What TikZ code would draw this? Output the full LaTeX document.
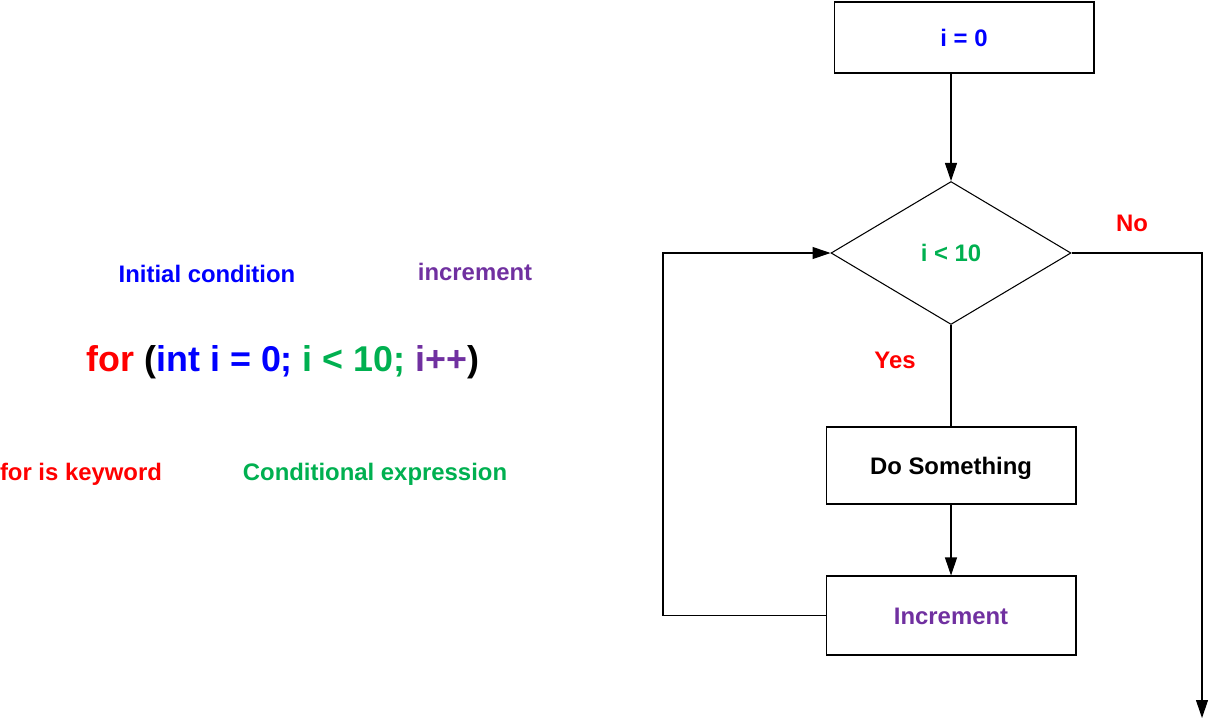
\documentclass[tikz,border=0pt]{standalone}
\usepackage{fontspec}
\setmainfont{Liberation Sans}
\usetikzlibrary{shapes.geometric,arrows.meta}
\definecolor{cblue}{RGB}{0,0,255}
\definecolor{cred}{RGB}{255,0,0}
\definecolor{cgreen}{RGB}{0,176,80}
\definecolor{cpurple}{RGB}{112,48,160}
\tikzset{
    box/.style={shape=rectangle,draw=black,line width=0.6pt,inner sep=0pt,text height=9.7pt,text depth=0pt,font=\bfseries\fontsize{13.6}{16}\selectfont},
    decision/.style={shape=diamond,draw=black,line width=0.6pt,inner sep=0pt,minimum width=4.8cm,minimum height=2.86cm,text height=9.7pt,text depth=0pt,font=\bfseries\fontsize{13.6}{16}\selectfont},
    lbl/.style={anchor=base,inner sep=0pt,font=\bfseries\fontsize{13.6}{16}\selectfont},
    link/.style={draw=black,line width=0.6pt},
    arr/.style={link,-{Triangle[length=0.36cm,width=0.24cm]}}
}
\begin{document}
\begin{tikzpicture}[x=0.02cm,y=-0.02cm]
    \useasboundingbox (0,0) rectangle (1210,721);

    \node[box, minimum width=5.2cm, minimum height=1.42cm, text=cblue] (init) at (964,37.5) {i = 0};
    \node[decision, text=cgreen] (cond) at (951,253) {i < 10};
    \node[box, minimum width=5cm, minimum height=1.54cm] (body) at (951,465.5) {Do Something};
    \node[box, minimum width=5cm, minimum height=1.58cm, text=cpurple] (step) at (951,615.5) {Increment};
    \coordinate (back) at (663,615.5);
    \coordinate (exit) at (1202,718);

    \node[lbl, text=cred] (no) at (1132,231) {No};
    \node[lbl, text=cred] (yes) at (895,368) {Yes};

    \draw[arr] (init.south -| cond.north) -- (cond.north);
    \draw[link] (cond.south) -- (body.north);
    \draw[arr] (body) -- (step);
    \draw[arr] (step.west) -- (back) |- (cond.west);
    \draw[arr] (cond.east) -| (exit);

    % the for statement and its parts
    \node[lbl, text=cblue] (initlbl) at (207,282) {Initial condition};
    \node[lbl, text=cpurple] (inclbl) at (475,280) {increment};
    \node[lbl, font=\bfseries\fontsize{20.4}{24}\selectfont] (code) at (283,371)
        {\textcolor{cred}{for} (\textcolor{cblue}{int i = 0;} \textcolor{cgreen}{i < 10;} \textcolor{cpurple}{i++})};
    \node[lbl, text=cred] (keylbl) at (81,480) {for is keyword};
    \node[lbl, text=cgreen] (condlbl) at (375,480) {Conditional expression};
\end{tikzpicture}
\end{document}
